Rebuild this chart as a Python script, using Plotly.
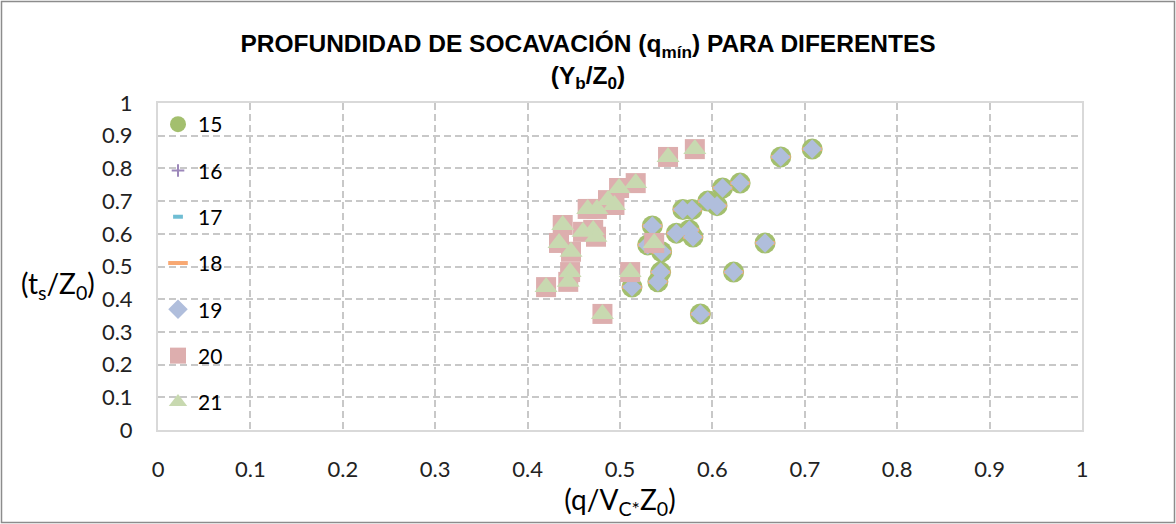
import plotly.graph_objects as go

# Scour depth ratios (t_s/Z0) against unit discharge ratio (q/V_C* Z0)
# Series 15-19 share one set of points, series 20-21 another.
x_a = [0.708, 0.674, 0.630, 0.611, 0.595, 0.605, 0.568, 0.578, 0.561, 0.575,
       0.579, 0.657, 0.535, 0.530, 0.545, 0.544, 0.541, 0.513, 0.623, 0.587]
y_a = [0.859, 0.835, 0.755, 0.740, 0.700, 0.686, 0.674, 0.674, 0.602, 0.612,
       0.590, 0.572, 0.624, 0.566, 0.545, 0.483, 0.453, 0.437, 0.483, 0.355]

x_b = [0.581, 0.552, 0.517, 0.499, 0.487, 0.494, 0.465, 0.475, 0.434, 0.471,
       0.474, 0.537, 0.438, 0.460, 0.447, 0.446, 0.444, 0.420, 0.511, 0.481]
y_b = [0.859, 0.835, 0.755, 0.740, 0.703, 0.688, 0.676, 0.676, 0.572, 0.612,
       0.591, 0.572, 0.627, 0.606, 0.545, 0.483, 0.453, 0.437, 0.483, 0.355]

series_names = ["15", "16", "17", "18", "19", "20", "21"]
tick_vals = [0, 0.1, 0.2, 0.3, 0.4, 0.5, 0.6, 0.7, 0.8, 0.9, 1]
tick_text = ["0", "0.1", "0.2", "0.3", "0.4", "0.5", "0.6", "0.7", "0.8", "0.9", "1"]

styles = {
    "15": dict(symbol="circle", size=21, color="#A3BF6E", line=dict(width=0)),
    "16": dict(symbol="cross-thin", size=9, color="#9C87BA",
               line=dict(width=2, color="#9C87BA")),
    "17": dict(symbol="line-ew", size=7, color="#6FBDD3",
               line=dict(width=4, color="#6FBDD3")),
    "18": dict(symbol="line-ew", size=14, color="#F8A872",
               line=dict(width=4, color="#F8A872")),
    "19": dict(symbol="diamond", size=15, color="#B0BEDC", line=dict(width=0)),
    "20": dict(symbol="square", size=20, color="#DDAEAE", line=dict(width=0)),
    "21": dict(symbol="triangle-up", size=20, color="#C8D9B0", line=dict(width=0)),
}

fig = go.Figure()
for name in series_names:
    xs, ys = (x_a, y_a) if name in ("15", "16", "17", "18", "19") else (x_b, y_b)
    fig.add_trace(go.Scatter(
        x=xs, y=ys, mode="markers", name=name, legendgroup=name,
        marker=styles[name], cliponaxis=False,
    ))

W, H = 1176, 524
L, R, T, B = 158, 94, 103, 94
pw, ph = W - L - R, H - T - B

FONT = "Lato, Open Sans, sans-serif"

grid = dict(showgrid=True, gridcolor="#C8C8C8", gridwidth=1.5, griddash="7px,4px")
axis_common = dict(
    range=[0, 1], tickvals=tick_vals, ticktext=tick_text,
    showline=True, linecolor="#D9D9D9", linewidth=2, mirror=True,
    zeroline=False, ticks="",
    tickfont=dict(family=FONT, size=22, color="#222222"),
    **grid,
)

fig.update_layout(
    width=W, height=H,
    margin=dict(l=L, r=R, t=T, b=B, autoexpand=False),
    paper_bgcolor="white", plot_bgcolor="white",
    title=dict(
        text="PROFUNDIDAD DE SOCAVACIÓN (q<sub>mín</sub>) PARA DIFERENTES<br>(Y<sub>b</sub>/Z<sub>0</sub>)",
        x=0.5, xanchor="center", xref="container", y=0.9, yanchor="top",
        font=dict(family="Liberation Sans Narrow, Arial Narrow, Liberation Sans, sans-serif",
                  size=24.5, color="#000000", weight="bold"),
    ),
    xaxis=dict(**axis_common, ticklabelstandoff=19,
               title=dict(text="(q/V<sub>C*</sub>Z<sub>0</sub>)", standoff=4,
                          font=dict(family=FONT, size=28, color="#000000"))),
    yaxis=dict(**axis_common, ticklabelstandoff=19),
    showlegend=True,
    legend=dict(
        x=0.0, xanchor="left", y=0.997, yanchor="top",
        bgcolor="rgba(0,0,0,0)", borderwidth=0,
        font=dict(family=FONT, size=21, color="#000000"),
        tracegroupgap=16, itemsizing="trace",
    ),
    annotations=[dict(
        text="(t<sub>s</sub>/Z<sub>0</sub>)", xref="paper", yref="paper",
        x=(58 - L) / pw, y=(H - B - 285) / ph, xanchor="center", yanchor="middle",
        showarrow=False,
        font=dict(family=FONT, size=28, color="#000000"),
    )],
    shapes=[dict(
        type="rect", xref="paper", yref="paper", layer="below",
        x0=(1.5 - L) / pw, x1=(W - 1.5 - L) / pw,
        y0=(H - B - (H - 1.5)) / ph, y1=(H - B - 1.5) / ph,
        line=dict(color="#8C8C8C", width=1.5), fillcolor="rgba(0,0,0,0)",
    )],
)

fig.write_html("out.html")
